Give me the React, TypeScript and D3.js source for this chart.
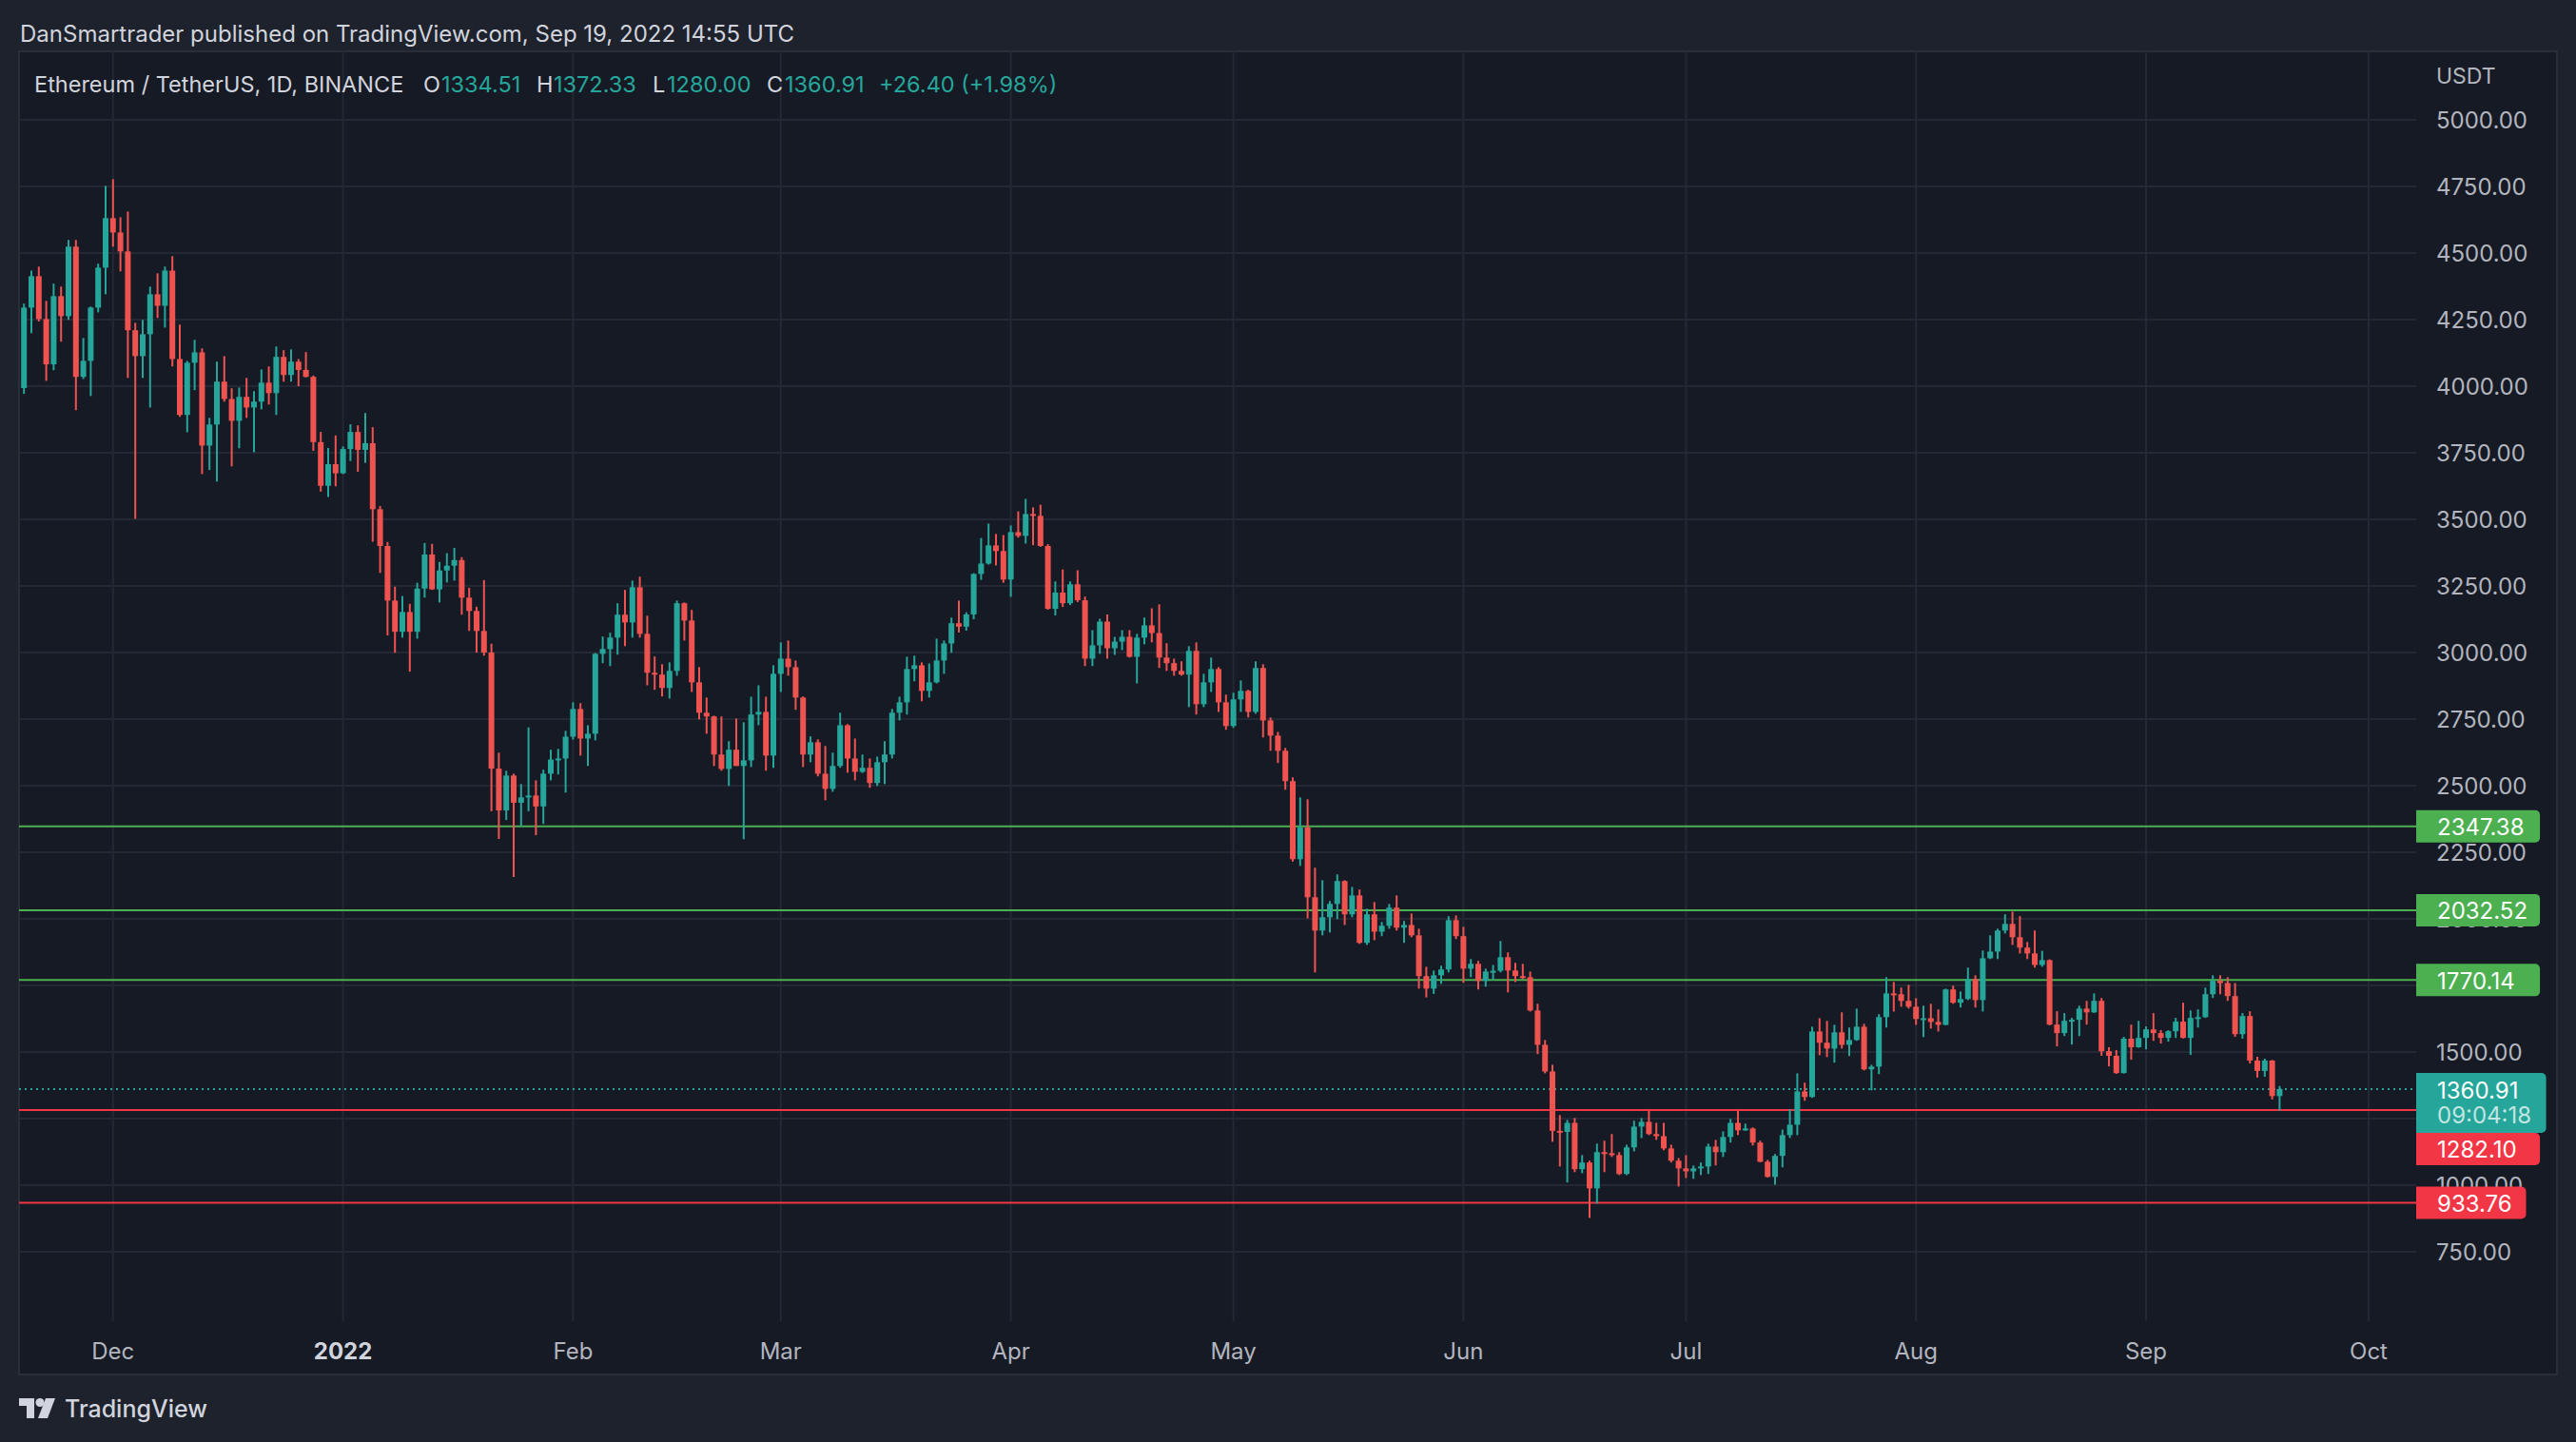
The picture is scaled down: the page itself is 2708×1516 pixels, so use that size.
import React from "react";
import * as d3 from "d3";

// ---------- DATA ----------
const startDay = Date.UTC(2021, 10, 19); // first candle: Nov 19, 2021
const lastDay = Date.UTC(2022, 8, 19);   // last candle: Sep 19, 2022

const opens = [
  3993,4295,4413,4252,4082,4338,4263,4524,4035,4095,
  4295,4445,4631,4577,4506,4210,4113,4195,4345,4302,
  4434,4102,3892,4088,4127,3777,3856,4017,3952,3870,
  3960,3920,3942,4013,3974,4110,4042,4092,4061,4035,
  3790,3626,3707,3673,3764,3828,3761,3786,3538,3400,
  3195,3078,3152,3078,3240,3368,3237,3308,3326,3347,
  3206,3156,3081,3000,2564,2407,2538,2436,2456,2463,
  2422,2545,2598,2602,2684,2788,2677,2695,2995,3013,
  3056,3142,3113,3245,3070,2924,2917,2867,2931,3185,
  3120,2888,2774,2760,2617,2563,2635,2574,2595,2767,
  2777,2613,2920,2977,2945,2831,2617,2663,2545,2488,
  2574,2727,2602,2552,2567,2510,2588,2617,2774,2813,
  2938,2952,2856,2888,2970,3034,3110,3097,3143,3295,
  3334,3402,3381,3274,3452,3438,3520,3513,3400,3164,
  3225,3185,3256,3196,2977,3027,3116,3016,3041,3059,
  2984,3056,3102,3073,2981,2960,2931,2917,3006,2806,
  2888,2938,2813,2724,2824,2856,2777,2942,2745,2688,
  2631,2517,2224,2343,2081,1956,2006,2056,2142,2017,
  2088,1910,2017,1952,1974,2042,1967,1977,1938,1785,
  1738,1788,1810,1995,1935,1813,1831,1767,1802,1805,
  1856,1806,1785,1781,1656,1527,1427,1204,1200,1234,
  1060,1085,988,1124,1120,1113,1042,1142,1220,1238,
  1192,1184,1138,1092,1063,1052,1063,1070,1145,1124,
  1181,1234,1206,1213,1160,1088,1031,1110,1188,1227,
  1352,1331,1577,1535,1513,1574,1527,1545,1595,1435,
  1445,1631,1720,1717,1692,1670,1624,1627,1613,1602,
  1735,1685,1699,1774,1695,1852,1877,1956,1981,1931,
  1892,1870,1827,1845,1603,1571,1617,1621,1663,1649,
  1692,1503,1486,1421,1550,1518,1553,1585,1571,1553,
  1578,1614,1553,1628,1631,1717,1767,1759,1710,1567,
  1635,1468,1429,1468,1334.51,
];

const highs = [
  4310,4434,4449,4320,4385,4374,4549,4549,4181,4299,
  4460,4752,4777,4634,4656,4238,4249,4374,4424,4449,
  4488,4231,4095,4174,4142,3881,4092,4113,3992,3995,
  4031,3981,4063,4074,4149,4135,4138,4102,4128,4040,
  3828,3768,3815,3774,3857,3853,3899,3846,3550,3415,
  3247,3212,3183,3262,3411,3408,3340,3373,3393,3358,
  3243,3172,3272,3033,2624,2556,2545,2506,2719,2520,
  2560,2635,2638,2706,2813,2810,2727,2998,3060,3074,
  3185,3235,3270,3285,3138,2985,2956,2963,3195,3188,
  3160,2945,2831,2763,2760,2667,2752,2738,2834,2877,
  2834,2952,3038,3045,2970,2835,2685,2674,2649,2624,
  2774,2731,2677,2617,2602,2609,2667,2788,2834,2984,
  2988,2963,2959,3052,3045,3131,3195,3151,3298,3430,
  3484,3445,3441,3477,3530,3577,3545,3555,3407,3267,
  3312,3267,3309,3210,3084,3127,3143,3059,3084,3084,
  3070,3131,3166,3181,3035,2977,2967,3024,3038,2920,
  2981,2945,2842,2849,2895,2860,2967,2956,2756,2702,
  2642,2531,2456,2449,2192,2145,2067,2167,2145,2120,
  2110,2038,2063,1988,2056,2088,1992,2020,1963,1820,
  1806,1824,2010,2013,1970,1849,1842,1813,1827,1917,
  1874,1835,1831,1802,1681,1545,1452,1263,1245,1252,
  1113,1092,1156,1167,1192,1124,1152,1242,1252,1279,
  1234,1234,1152,1102,1113,1074,1085,1156,1170,1202,
  1249,1279,1231,1217,1167,1095,1117,1209,1285,1420,
  1385,1595,1627,1617,1602,1649,1592,1663,1606,1452,
  1642,1781,1763,1742,1752,1702,1674,1681,1660,1738,
  1749,1727,1817,1788,1881,1938,1963,2017,2027,2010,
  1913,1956,1880,1848,1653,1646,1628,1674,1692,1720,
  1703,1518,1507,1557,1603,1617,1596,1646,1582,1582,
  1628,1685,1656,1660,1742,1788,1788,1781,1759,1646,
  1653,1482,1475,1470,1372.33,
];

const lows = [
  3971,4199,4243,4020,4060,4167,4249,3910,4027,3963,
  4277,4345,4524,4431,4031,3502,4031,3920,4256,4220,
  4074,3885,3827,3985,3670,3685,3642,3942,3699,3767,
  3881,3752,3913,3931,3892,4017,4017,4000,4033,3757,
  3604,3584,3624,3670,3719,3679,3712,3416,3299,3064,
  2999,3056,2928,3052,3206,3235,3188,3263,3270,3142,
  3081,3000,2988,2404,2300,2371,2157,2348,2404,2314,
  2356,2520,2542,2474,2673,2613,2574,2670,2960,2949,
  2992,3024,3056,3056,2877,2860,2835,2827,2913,3045,
  2852,2749,2695,2574,2556,2499,2574,2299,2570,2727,
  2556,2567,2852,2913,2785,2570,2588,2535,2445,2477,
  2567,2549,2520,2548,2492,2499,2506,2602,2745,2767,
  2892,2817,2831,2884,2920,2999,3075,3082,3125,3273,
  3330,3327,3262,3209,3431,3409,3403,3397,3161,3139,
  3171,3178,3189,2949,2949,2995,2977,2991,3009,2981,
  2884,3031,3038,2942,2931,2913,2913,2795,2767,2795,
  2852,2777,2710,2717,2777,2756,2770,2681,2631,2585,
  2485,2215,2199,2002,1799,1938,1949,1999,1977,2006,
  1906,1902,1920,1935,1963,1956,1910,1931,1738,1705,
  1718,1756,1799,1924,1760,1781,1735,1745,1770,1799,
  1724,1763,1774,1652,1492,1420,1163,1070,1010,1049,
  1045,877,931,1049,1106,1038,1038,1127,1177,1188,
  1170,1131,1085,995,1027,1024,1038,1042,1074,1106,
  1160,1188,1204,1149,1086,1029,1002,1067,1177,1188,
  1317,1328,1488,1481,1460,1513,1485,1542,1431,1356,
  1417,1592,1652,1670,1663,1602,1556,1588,1577,1600,
  1681,1667,1695,1667,1652,1849,1849,1945,1902,1870,
  1849,1817,1820,1600,1521,1560,1528,1560,1603,1647,
  1486,1446,1418,1419,1471,1516,1510,1542,1532,1539,
  1553,1551,1489,1592,1628,1703,1717,1692,1557,1550,
  1457,1404,1407,1322,1280.0,
];

const closes = [
  4295,4413,4252,4082,4338,4263,4524,4035,4095,4295,
  4445,4631,4577,4506,4210,4113,4195,4345,4302,4434,
  4102,3892,4088,4127,3777,3856,4017,3952,3870,3960,
  3920,3942,4013,3974,4110,4042,4092,4061,4035,3790,
  3626,3707,3673,3764,3828,3761,3786,3538,3400,3195,
  3078,3152,3078,3240,3368,3237,3308,3326,3347,3206,
  3156,3081,3000,2564,2407,2538,2436,2456,2463,2422,
  2545,2598,2602,2684,2788,2677,2695,2995,3013,3056,
  3142,3113,3245,3070,2924,2917,2867,2931,3185,3120,
  2888,2774,2760,2617,2563,2635,2574,2595,2767,2777,
  2613,2920,2977,2945,2831,2617,2663,2545,2488,2574,
  2727,2602,2552,2567,2510,2588,2617,2774,2813,2938,
  2952,2856,2888,2970,3034,3110,3097,3143,3295,3334,
  3402,3381,3274,3452,3438,3520,3513,3400,3164,3225,
  3185,3256,3196,2977,3027,3116,3016,3041,3059,2984,
  3056,3102,3073,2981,2960,2931,2917,3006,2806,2888,
  2938,2813,2724,2824,2856,2777,2942,2745,2688,2631,
  2517,2224,2343,2081,1956,2006,2056,2142,2017,2088,
  1910,2017,1952,1974,2042,1967,1977,1938,1785,1738,
  1788,1810,1995,1935,1813,1831,1767,1802,1805,1856,
  1806,1785,1781,1656,1527,1427,1204,1200,1234,1060,
  1085,988,1124,1120,1113,1042,1142,1220,1238,1192,
  1184,1138,1092,1063,1052,1063,1070,1145,1124,1181,
  1234,1206,1213,1160,1088,1031,1110,1188,1227,1352,
  1331,1577,1535,1513,1574,1527,1545,1595,1435,1445,
  1631,1720,1717,1692,1670,1624,1627,1613,1602,1735,
  1685,1699,1774,1695,1852,1877,1956,1981,1931,1892,
  1870,1827,1845,1603,1571,1617,1621,1663,1649,1692,
  1503,1486,1421,1550,1518,1553,1585,1571,1553,1578,
  1614,1553,1628,1631,1717,1767,1759,1710,1567,1635,
  1468,1429,1468,1334.51,1360.91,
];

const priceTicks = [750,1000,1250,1500,1750,2000,2250,2500,2750,3000,3250,3500,3750,4000,4250,4500,4750,5000];
const resistanceLevels = [2347.38, 2032.52, 1770.14];
const supportLevels = [1282.10, 933.76];
const lastPrice = 1360.91;
const countdown = "09:04:18";
const headerText = "DanSmartrader published on TradingView.com, Sep 19, 2022 14:55 UTC";
const symbolText = "Ethereum / TetherUS, 1D, BINANCE";
const ohlcLabels = ["O", "H", "L", "C"];
const ohlcValues = ["1334.51", "1372.33", "1280.00", "1360.91"];
const changeText = "+26.40 (+1.98%)";
const currencyText = "USDT";

// ---------- STYLE ----------
const FONT = "Inter, Roboto, 'Liberation Sans', sans-serif";
const UP = "#26a69a";
const DOWN = "#ef5350";
const LVL_GREEN = "#4caf50";
const LVL_RED = "#f23645";
const BG_OUT = "#1e222d";
const BG_PANE = "#161a25";
const GRID = "#242834";
const TXT = "#b2b5be";
const TXT_HI = "#d1d4dc";

function labelWidth(s: string) {
  let w = 0;
  for (const ch of s) w += /[0-9]/.test(ch) ? 14.6 : 6.5;
  return 22 + w + 14;
}

function boxPath(x: number, y: number, w: number, h: number, r: number) {
  return `M${x},${y}h${w - r}a${r},${r} 0 0 1 ${r},${r}v${h - 2 * r}a${r},${r} 0 0 1 ${-r},${r}h${-(w - r)}z`;
}

export default function App() {
  const W = 2708, H = 1516;
  const paneL = 20, paneT = 54, paneR = 2688, paneB = 1445;
  const plotR = 2540, plotB = 1389;

  const x = d3.scaleUtc().domain([new Date(startDay), new Date(lastDay)]).range([25.2, 2396.4]);
  const y = d3.scaleLinear().domain([750, 5000]).range([1316, 126]);

  const dates = opens.map((_, i) => d3.utcDay.offset(new Date(startDay), i));
  const months = d3.utcMonths(new Date(Date.UTC(2021, 11, 1)), new Date(Date.UTC(2022, 9, 2)));
  const fmtMonth = d3.utcFormat("%b");
  const fmtYear = d3.utcFormat("%Y");
  const fmtPrice = d3.format(".2f");

  const bodyW = 6;

  const lastY = y(lastPrice);
  const tealTop = lastY - 17;
  const tealH = 63;
  const tealBottom = tealTop + tealH;

  return (
    <svg width={W} height={H} style={{ position: "absolute", left: 0, top: 0, display: "block" }} fontFamily={FONT}>
      <defs>
        <clipPath id="plot">
          <rect x={paneL} y={paneT} width={plotR - paneL} height={plotB - paneT} />
        </clipPath>
      </defs>
      <rect x={0} y={0} width={W} height={H} fill={BG_OUT} />
      <text x={21} y={44} fontSize={24} fill={TXT_HI}>{headerText}</text>

      <rect x={paneL} y={paneT} width={paneR - paneL} height={paneB - paneT} fill={BG_PANE} stroke="#2a2e39" strokeWidth={2} />

      {/* grid */}
      <g clipPath="url(#plot)">
        {priceTicks.map((p) => (
          <line key={"h" + p} x1={paneL} x2={plotR} y1={y(p)} y2={y(p)} stroke={GRID} strokeWidth={2} />
        ))}
        {months.map((m) => (
          <line key={"v" + m.getTime()} x1={x(m)} x2={x(m)} y1={paneT} y2={plotB} stroke={GRID} strokeWidth={2} />
        ))}
      </g>

      {/* level lines */}
      <g clipPath="url(#plot)">
        {resistanceLevels.map((v) => (
          <line key={"r" + v} x1={paneL} x2={plotR} y1={y(v)} y2={y(v)} stroke={LVL_GREEN} strokeWidth={2} />
        ))}
        {supportLevels.map((v) => (
          <line key={"s" + v} x1={paneL} x2={plotR} y1={y(v)} y2={y(v)} stroke={LVL_RED} strokeWidth={2} />
        ))}
        <line x1={paneL} x2={plotR} y1={lastY} y2={lastY} stroke={UP} strokeWidth={2} strokeDasharray="2 4" />
      </g>

      {/* candles */}
      <g clipPath="url(#plot)">
        {dates.map((d, i) => {
          const o = opens[i], c = closes[i], h = highs[i], l = lows[i];
          const col = c >= o ? UP : DOWN;
          const cx = x(d);
          const yt = y(Math.max(o, c));
          const yb = y(Math.min(o, c));
          const bh = Math.max(2, yb - yt);
          return (
            <g key={i} fill={col}>
              <rect x={cx - 1} y={y(h)} width={2} height={y(l) - y(h)} />
              <rect x={cx - bodyW / 2} y={yt} width={bodyW} height={bh} />
            </g>
          );
        })}
      </g>

      {/* legend */}
      <text x={36} y={97} fontSize={23.5} fill={TXT_HI}>{symbolText}</text>
      {ohlcLabels.map((lab, i) => {
        const lx = [445, 564, 686, 806][i];
        const vx = [464, 582, 701, 825][i];
        return (
          <g key={lab}>
            <text x={lx} y={97} fontSize={23.5} fill={TXT_HI}>{lab}</text>
            <text x={vx} y={97} fontSize={23.5} fill={UP}>{ohlcValues[i]}</text>
          </g>
        );
      })}
      <text x={924} y={97} fontSize={23.5} fill={UP}>{changeText}</text>

      {/* price axis */}
      <text x={2561} y={80} fontSize={23} fill={TXT} dominantBaseline="central">{currencyText}</text>
      {priceTicks.map((p) => (
        <text key={"t" + p} x={2561} y={y(p)} fontSize={24} fill={TXT} dominantBaseline="central">{fmtPrice(p)}</text>
      ))}

      {/* level labels */}
      {resistanceLevels.map((v) => {
        const s = fmtPrice(v);
        const w = labelWidth(s);
        return (
          <g key={"rl" + v}>
            <path d={boxPath(plotR, y(v) - 17, w, 34, 5)} fill={LVL_GREEN} />
            <text x={2562} y={y(v) + 1} fontSize={24} fill="#ffffff" dominantBaseline="central">{s}</text>
          </g>
        );
      })}
      {(() => {
        const w = labelWidth(countdown);
        return (
          <g>
            <path d={boxPath(plotR, tealTop, w, tealH, 5)} fill={UP} />
            <text x={2562} y={lastY + 2} fontSize={24} fill="#ffffff" dominantBaseline="central">{fmtPrice(lastPrice)}</text>
            <text x={2562} y={lastY + 28} fontSize={24} fill="#ffffff" fillOpacity={0.72} dominantBaseline="central">{countdown}</text>
          </g>
        );
      })()}
      {supportLevels.map((v) => {
        const s = fmtPrice(v);
        const w = labelWidth(s);
        const top = Math.max(y(v) - 17, tealBottom);
        return (
          <g key={"sl" + v}>
            <path d={boxPath(plotR, top, w, 34, 5)} fill={LVL_RED} />
            <text x={2562} y={top + 18} fontSize={24} fill="#ffffff" dominantBaseline="central">{s}</text>
          </g>
        );
      })}

      {/* time axis */}
      {months.map((m) => {
        const isYear = m.getUTCMonth() === 0;
        return (
          <text key={"m" + m.getTime()} x={x(m)} y={1420} fontSize={24} fill={isYear ? TXT_HI : TXT}
            fontWeight={isYear ? 700 : 400} textAnchor="middle" dominantBaseline="central">
            {isYear ? fmtYear(m) : fmtMonth(m)}
          </text>
        );
      })}

      {/* footer logo */}
      <g transform="translate(20,1470)" fill={TXT_HI}>
        <rect x={0} y={0} width={16} height={8} />
        <rect x={8} y={0} width={8} height={21} />
        <circle cx={22} cy={4.5} r={4.5} />
        <polygon points="28,0 38,0 30,21 20,21" />
      </g>
      <text x={68} y={1490} fontSize={25} fontWeight={500} fill={TXT_HI}>TradingView</text>
    </svg>
  );
}
